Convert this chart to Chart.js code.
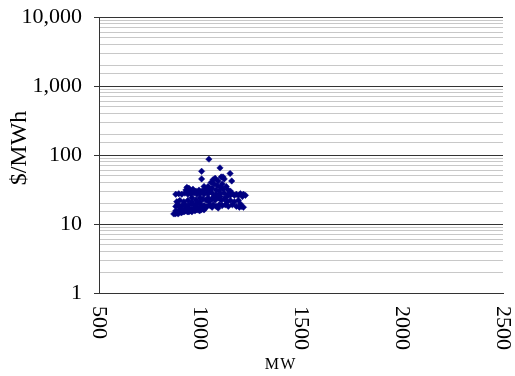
<!DOCTYPE html>
<html>
<head>
<meta charset="utf-8">
<script src="https://cdn.jsdelivr.net/npm/chart.js@4/dist/chart.umd.min.js"></script>
<style>
  html, body { margin: 0; padding: 0; background: #fff; }
  #wrap { width: 515px; height: 376px; }
</style>
</head>
<body>
<div id="wrap"><canvas id="chart" width="515" height="376"></canvas></div>
<script>
// Data
var loadMW = [
  870, 878, 885, 892, 900, 908, 915, 922, 930, 938, 945, 952, 960, 968, 975, 982, 990, 998, 1005, 1012, 1020,
  880, 895, 910, 925, 940, 955, 970, 985, 1000,
  880, 890, 900, 915, 930, 945, 960, 975, 990, 1005, 1020, 1035, 1050, 1065, 1080, 1095, 1110, 1125, 1140, 1160, 1180, 1195, 1205, 1215, 1200, 1030, 1060, 1090,
  885, 900, 920, 940, 960, 980, 1000, 1015, 1030, 1045, 1060, 1075, 1090, 1105, 1120, 1135, 1150, 1170, 1190, 1040, 1070, 1100, 1130, 1000, 960,
  880, 895, 910, 925, 940, 955, 970, 985, 1000, 1020, 1040, 1060, 1080, 1100, 1120, 1140, 1160, 1180, 1200, 1215, 1225, 1210, 1190, 1170, 1150,
  930, 935, 945, 950, 965, 980, 995, 1010, 1025, 1040, 1050, 1060, 1070, 1075, 1080, 1085, 1090, 1095, 1100, 1105, 1110, 1115, 1120, 1130, 1140, 1150, 1065, 1055, 1045, 1035, 1000, 1020,
  1044, 1099, 1008, 1008, 1149, 1157, 1114
]
var pricePerMWh = [
  14, 14, 14.5, 14, 15, 14.5, 15, 15, 15.5, 15, 15, 15.5, 15, 16, 15.5, 16, 16, 15.5, 16, 16.5, 16,
  15.5, 16, 16.5, 16.5, 17, 16.5, 17, 17.5, 17,
  18, 19, 18, 19, 18.5, 19, 19.5, 19, 20, 19, 18.5, 18, 18.5, 19, 18, 19, 18.5, 19, 18, 19, 18, 17.5, 18, 17.5, 19.5, 17.5, 17.5, 17,
  21, 22, 21, 22, 21, 22.5, 21, 23, 22, 21, 23, 22, 24, 22, 23, 21, 22, 21, 22, 24, 25, 25, 24.5, 24, 24,
  27, 27.5, 27, 28, 27, 27.5, 28, 27, 27.5, 27, 27.5, 28, 27, 27.5, 28, 27, 27.5, 27, 27.5, 27, 26, 25, 26, 26, 26,
  31, 34, 33, 30, 32, 30, 31, 30, 32, 35, 30, 33, 38, 46, 31, 36, 42, 30, 34, 48, 38, 32, 45, 35, 31, 30, 44, 40, 30, 28.5, 29, 35,
  87, 65, 58, 45, 54, 42, 48
]
var xTicks = [500, 1000, 1500, 2000, 2500]
var yMajorTicks = [1, 10, 100, 1000, 10000]
var xTitle = 'MW'
var yTitle = '$/MWh'

var points = loadMW.map(function (mw, i) {
  return { x: mw, y: pricePerMWh[i] }
})

var tickFont = "'Liberation Serif', 'Times New Roman', serif"

// x tick labels read top-to-bottom (Chart.js only rotates the other way),
// axis titles placed where the original has them
var axisText = {
  id: 'axisText',
  afterDraw: function (chart) {
    var ctx = chart.ctx
    var xs = chart.scales.x
    var area = chart.chartArea
    ctx.save()
    ctx.fillStyle = '#000'
    ctx.font = '22px ' + tickFont
    ctx.textAlign = 'left'
    ctx.textBaseline = 'middle'
    xTicks.forEach(function (v) {
      ctx.save()
      ctx.translate(xs.getPixelForValue(v), area.bottom + 13)
      ctx.rotate(Math.PI / 2)
      ctx.fillText(String(v), 0, 0)
      ctx.restore()
    })

    ctx.textAlign = 'center'
    ctx.font = '16px ' + tickFont
    ctx.fillText(xTitle.split('').join(String.fromCharCode(8202)), 280, 365)

    ctx.font = '24px ' + tickFont
    ctx.save()
    ctx.translate(20, 148)
    ctx.rotate(-Math.PI / 2)
    ctx.fillText(yTitle, 0, 0)
    ctx.restore()
    ctx.restore()
  }
}

var whiteBg = {
  id: 'whiteBg',
  beforeDraw: function (chart) {
    var ctx = chart.ctx
    ctx.save()
    ctx.fillStyle = '#fff'
    ctx.fillRect(0, 0, chart.width, chart.height)
    ctx.restore()
  }
}

new Chart(document.getElementById('chart'), {
  type: 'scatter',
  data: {
    datasets: [{
      data: points,
      pointStyle: 'rectRot',
      pointRadius: 3.2,
      pointBackgroundColor: '#000080',
      pointBorderColor: '#000080',
      pointBorderWidth: 0.5
    }]
  },
  options: {
    responsive: false,
    animation: false,
    layout: { padding: { top: 17, right: 12, left: 0, bottom: 0 } },
    plugins: {
      legend: { display: false },
      tooltip: { enabled: false }
    },
    scales: {
      x: {
        type: 'linear',
        min: 500,
        max: 2500,
        afterFit: function (scale) {
          scale.height = 83
          scale.paddingLeft = 0
          scale.paddingRight = 0
        },
        grid: { display: false },
        border: { display: true, color: '#333', width: 1 },
        ticks: { display: false, stepSize: 500 }
      },
      y: {
        type: 'logarithmic',
        min: 1,
        max: 10000,
        afterFit: function (scale) {
          scale.width = 99
          scale.paddingTop = 0
          scale.paddingBottom = 0
        },
        border: { display: true, color: '#333', width: 1 },
        grid: {
          color: function (c) {
            return yMajorTicks.indexOf(c.tick.value) >= 0 ? '#333' : '#c8c8c8'
          },
          tickColor: function (c) {
            return yMajorTicks.indexOf(c.tick.value) >= 0 ? '#333' : 'rgba(0,0,0,0)'
          },
          tickLength: 5,
          lineWidth: 1
        },
        ticks: {
          autoSkip: false,
          color: '#000',
          padding: 12,
          font: { family: tickFont, size: 22 },
          callback: function (v) {
            return yMajorTicks.indexOf(v) >= 0 ? v.toLocaleString('en-US') : ''
          }
        }
      }
    }
  },
  plugins: [whiteBg, axisText]
})
</script>
</body>
</html>
